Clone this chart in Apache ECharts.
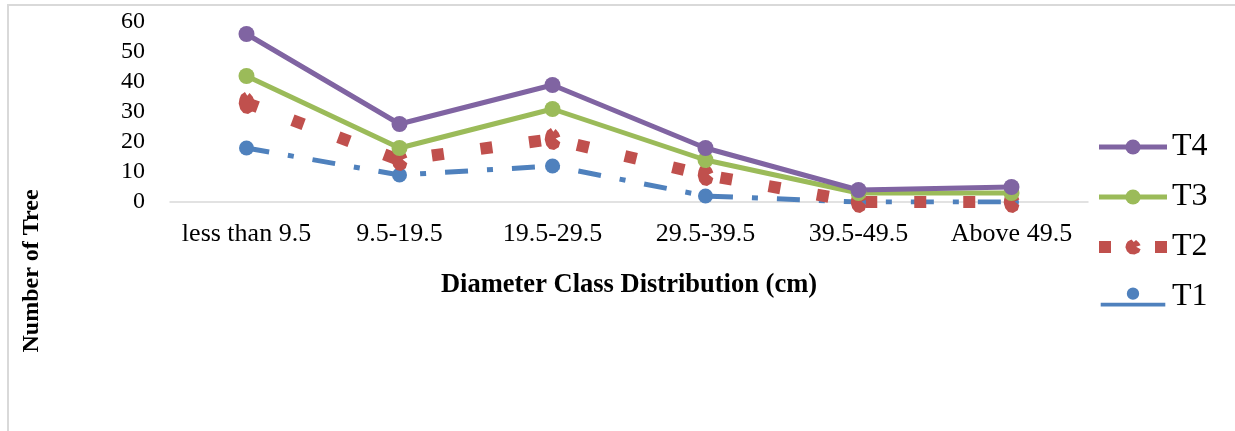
<!DOCTYPE html>
<html>
<head>
<meta charset="utf-8">
<script src="https://cdn.jsdelivr.net/npm/echarts@6/dist/echarts.min.js"></script>
<style>
  html, body { margin: 0; padding: 0; background: #fff; }
  #chart { width: 1235px; height: 431px; }
</style>
</head>
<body>
<div id="chart"></div>
<script>
const categories = ['less than 9.5', '9.5-19.5', '19.5-29.5', '29.5-39.5', '39.5-49.5', 'Above 49.5'];
const t1 = [18, 9, 12, 2, 0, 0];
const t2 = [33, 14, 21, 9, 0, 0];
const t3 = [42, 18, 31, 14, 3, 3];
const t4 = [56, 26, 39, 18, 4, 5];
const yTicks = { min: 0, max: 60, interval: 10 };

const FONT = '"Liberation Serif", "Times New Roman", serif';
const blob = 'path://M3,4 L8,1 L11,5 L14,2 L18,6 L20,10 L14,12 L20,16 L18,21 L12,24 L6,23 L2,19 L0,13 L1,8 Z';
// T1 legend icon: marker above a solid bar (as in the reference legend)
const t1Icon = 'path://M0,16 L68,16 L68,20 L0,20 Z M34,0 A6.5,6.5 0 1 1 33.99,0 Z';

const chart = echarts.init(document.getElementById('chart'), null, { renderer: 'canvas' });
chart.setOption({
  animation: false,
  backgroundColor: '#ffffff',
  grid: { left: 170, right: 147, top: 22, bottom: 229, containLabel: false },
  graphic: [
    { type: 'rect', shape: { x: 8, y: 5, width: 1400, height: 600 }, style: { fill: 'none', stroke: '#d9d9d9', lineWidth: 2 }, silent: true, z: -1 },
    { type: 'text', x: 32, y: 271, rotation: Math.PI / 2, style: { text: 'Number of Tree', font: 'bold 24px ' + FONT, fill: '#000', align: 'center', verticalAlign: 'middle' } }
  ],
  legend: {
    orient: 'vertical',
    left: 1088,
    top: 125,
    itemWidth: 68,
    itemHeight: 19,
    itemGap: 16,
    textStyle: { fontFamily: FONT, fontSize: 32, color: '#000', lineHeight: 34 },
    data: [
      { name: 'T4', lineStyle: { width: 5 } },
      { name: 'T3', lineStyle: { width: 5 } },
      { name: 'T2', lineStyle: { width: 12, type: [12, 44], cap: 'butt' } },
      { name: 'T1', icon: t1Icon }
    ]
  },
  xAxis: {
    type: 'category',
    data: categories,
    boundaryGap: true,
    axisLine: { show: true, lineStyle: { color: '#d9d9d9', width: 1.5 } },
    axisTick: { show: false },
    axisLabel: { fontFamily: FONT, fontSize: 26, color: '#000', margin: 19, interval: 0 },
    name: 'Diameter Class Distribution (cm)',
    nameLocation: 'middle',
    nameGap: 70,
    nameTextStyle: { fontFamily: FONT, fontSize: 26.5, fontWeight: 'bold', color: '#000' }
  },
  yAxis: {
    type: 'value',
    min: yTicks.min, max: yTicks.max, interval: yTicks.interval,
    axisLine: { show: false },
    axisTick: { show: false },
    splitLine: { show: false },
    axisLabel: { fontFamily: FONT, fontSize: 24, color: '#000', margin: 25 }
  },
  series: [
    { name: 'T1', type: 'line', data: t1, color: '#4f81bd', symbol: 'circle', symbolSize: 15,
      lineStyle: { width: 5, type: [23, 19, 6, 19], cap: 'butt' }, itemStyle: { color: '#4f81bd' } },
    { name: 'T2', type: 'line', data: t2, color: '#c0504d', symbol: blob, symbolSize: [18, 22], symbolKeepAspect: true,
      lineStyle: { width: 12, type: [12, 37], cap: 'butt' }, itemStyle: { color: '#c0504d' } },
    { name: 'T3', type: 'line', data: t3, color: '#9bbb59', symbol: 'circle', symbolSize: 16,
      lineStyle: { width: 5 }, itemStyle: { color: '#9bbb59' } },
    { name: 'T4', type: 'line', data: t4, color: '#8064a2', symbol: 'circle', symbolSize: 16,
      lineStyle: { width: 5 }, itemStyle: { color: '#8064a2' } }
  ]
});
</script>
</body>
</html>
